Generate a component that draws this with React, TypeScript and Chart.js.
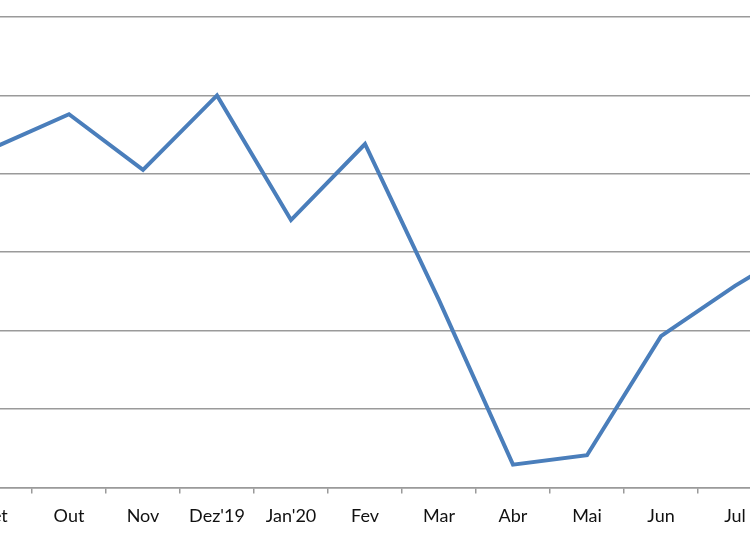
import React, { useEffect, useRef } from "react";
import { Chart, registerables } from "chart.js";

Chart.register(...registerables);

const categories = ["Set", "Out", "Nov", "Dez'19", "Jan'20", "Fev", "Mar", "Abr", "Mai", "Jun", "Jul", "Ago"];
const values = [43.4, 47.6, 40.5, 50.0, 34.1, 43.8, 23.9, 2.9, 4.1, 19.3, 25.7, 31.4];
const yMin = 0;
const yMax = 60;
const yStep = 10;

export default function App() {
  const ref = useRef<HTMLCanvasElement | null>(null);
  useEffect(() => {
    document.body.style.margin = "0";
    const canvas = ref.current!;
    const chart = new Chart(canvas, {
      type: "line",
      data: {
        labels: categories,
        datasets: [
          {
            data: values,
            borderColor: "#4a7ebb",
            borderWidth: 4,
            pointRadius: 0,
            tension: 0,
            fill: false,
            borderJoinStyle: "miter",
          },
        ],
      },
      options: {
        responsive: false,
        animation: false,
        devicePixelRatio: 1,
        layout: { padding: { left: 8, right: 54, top: 17, bottom: 1 } },
        plugins: { legend: { display: false }, tooltip: { enabled: false } },
        scales: {
          x: {
            offset: true,
            grid: {
              offset: true,
              drawOnChartArea: false,
              drawTicks: true,
              tickLength: 6,
              color: "#9a9a9a",
              lineWidth: 1.5,
            },
            border: { display: true, color: "#9a9a9a", width: 1.5 },
            ticks: {
              color: "#111",
              padding: 12,
              maxRotation: 0,
              autoSkip: false,
              font: { family: "Lato, 'Open Sans', sans-serif", size: 18 },
            },
          },
          y: {
            min: yMin,
            max: yMax,
            ticks: { display: false, stepSize: yStep },
            grid: { color: "#9a9a9a", lineWidth: 1.5, drawTicks: false },
            border: { display: false },
          },
        },
      },
    });
    return () => chart.destroy();
  }, []);
  return (
    <div style={{ position: "relative", width: 750, height: 536, overflow: "hidden", background: "#fff" }}>
      <canvas ref={ref} width={950} height={540} style={{ position: "absolute", left: -50, top: 0 }} />
    </div>
  );
}
